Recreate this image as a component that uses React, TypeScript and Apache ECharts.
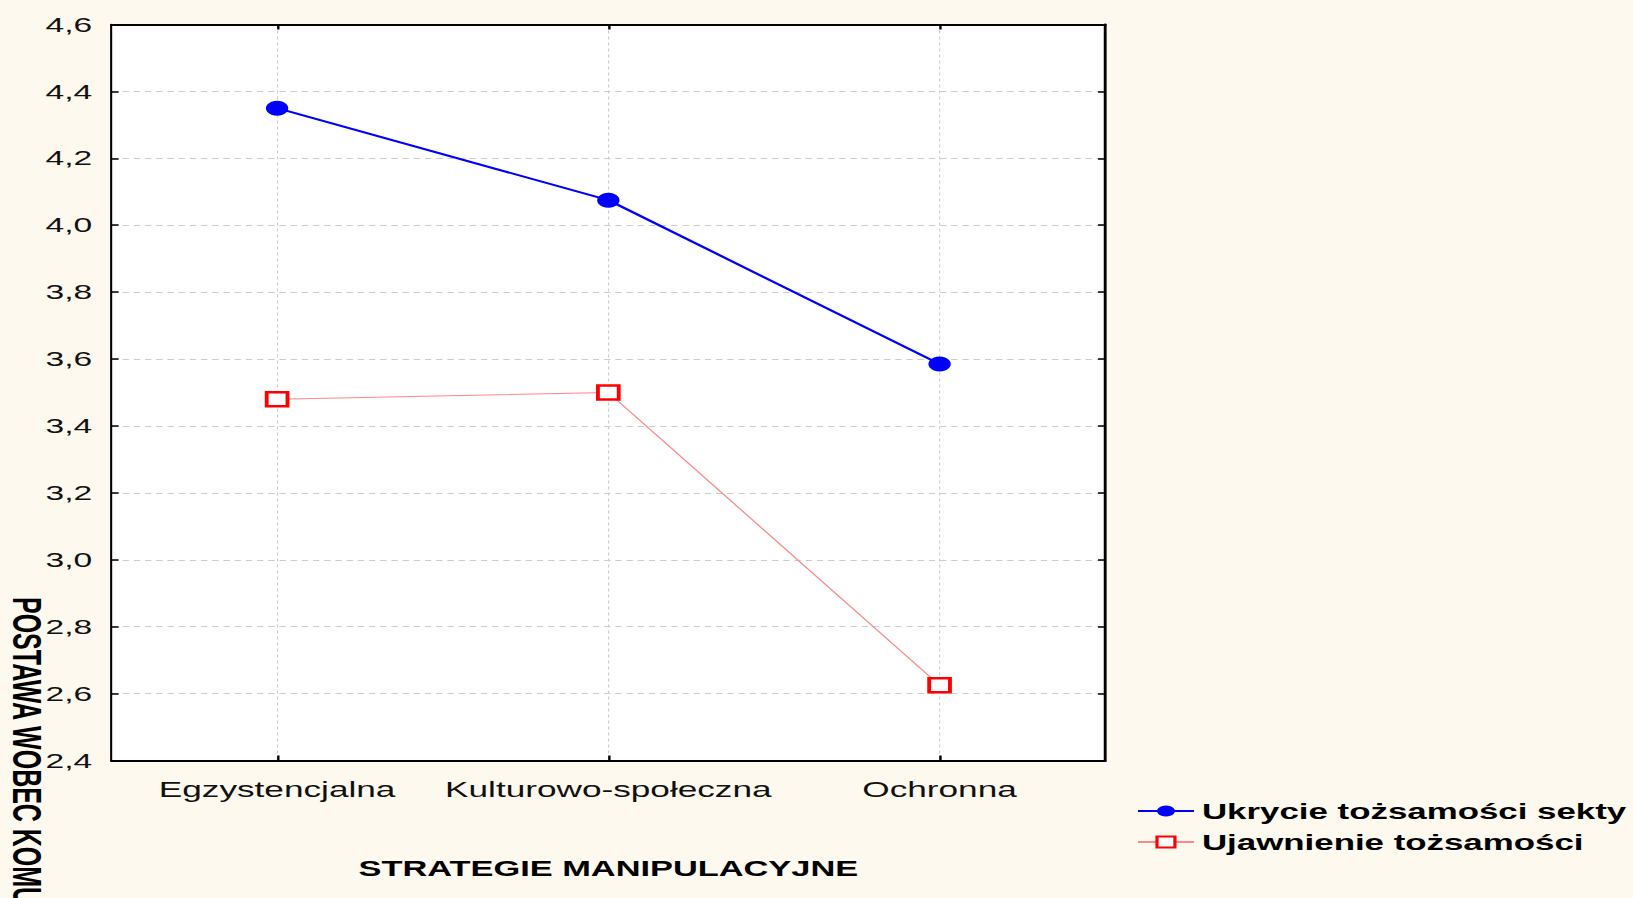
import React, { useEffect, useRef } from "react";
import * as echarts from "echarts";

const categories = ["Egzystencjalna", "Kulturowo-społeczna", "Ochronna"];
const seriesNames = ["Ukrycie tożsamości sekty", "Ujawnienie tożsamości"];
const hiddenValues = [4.35, 4.075, 3.585];
const revealedValues = [3.48, 3.5, 2.625];
const yMin = 2.4;
const yMax = 4.6;
const yStep = 0.2;
const xTitle = "STRATEGIE MANIPULACYJNE";
const yTitle = "POSTAWA WOBEC KOMUNIKATU";

const FULL_W = 1633;
const FULL_H = 898;
const INNER_W = 1021;
const SX = FULL_W / INNER_W;
const FONT = '"Liberation Sans", Arial, sans-serif';

export default function App() {
  const ref = useRef<HTMLDivElement>(null);
  useEffect(() => {
    if (!ref.current) return;
    const chart = echarts.init(ref.current, null, { renderer: "svg" });
    const fmt = (v: number) => v.toFixed(1).replace(".", ",");
    const gridColor = "#cccccc";
    chart.setOption({
      animation: false,
      backgroundColor: "#fef9ee",
      textStyle: { fontFamily: FONT },
      grid: {
        left: 69.7,
        right: 330,
        top: 24.5,
        bottom: 137.5,
        show: true,
        backgroundColor: "#ffffff",
        borderWidth: 0,
      },
      legend: {
        orient: "vertical",
        left: 705.5,
        top: 795,
        itemWidth: 35,
        itemHeight: 14,
        itemGap: 9,
        data: seriesNames,
        textStyle: {
          fontFamily: FONT,
          fontWeight: "bold",
          fontSize: 21.8,
          color: "#000",
          lineHeight: 22,
        },
      },
      xAxis: [
        {
          type: "category",
          data: categories,
          position: "bottom",
          boundaryGap: true,
          name: xTitle,
          nameLocation: "middle",
          nameGap: 97,
          nameTextStyle: {
            fontFamily: FONT,
            fontWeight: "bold",
            fontSize: 21.5,
            color: "#000",
          },
          axisLine: { show: true, lineStyle: { color: "#000", width: 2 } },
          axisTick: {
            show: true,
            inside: true,
            alignWithLabel: true,
            length: 5,
            lineStyle: { color: "#000", width: 1.5 },
          },
          axisLabel: {
            interval: 0,
            fontFamily: FONT,
            fontSize: 22,
            color: "#111",
            margin: 18,
          },
          splitLine: {
            show: true,
            alignWithLabel: true,
            lineStyle: { color: gridColor, type: [3, 3], width: 0.7 },
          },
        },
        {
          type: "category",
          data: categories,
          position: "top",
          boundaryGap: true,
          axisLine: { show: true, lineStyle: { color: "#000", width: 2 } },
          axisTick: {
            show: true,
            inside: true,
            alignWithLabel: true,
            length: 5,
            lineStyle: { color: "#000", width: 1.5 },
          },
          axisLabel: { show: false },
          splitLine: { show: false },
        },
      ],
      yAxis: [
        {
          type: "value",
          min: yMin,
          max: yMax,
          interval: yStep,
          position: "left",
          axisLine: { show: true, lineStyle: { color: "#000", width: 1.3 } },
          axisTick: {
            show: true,
            inside: true,
            length: 4.5,
            lineStyle: { color: "#000", width: 1.5 },
          },
          axisLabel: {
            fontFamily: FONT,
            fontSize: 21,
            color: "#111",
            margin: 12,
            formatter: fmt,
          },
          splitLine: {
            show: true,
            lineStyle: { color: gridColor, type: [4, 3], width: 1 },
          },
        },
        {
          type: "value",
          min: yMin,
          max: yMax,
          interval: yStep,
          position: "right",
          axisLine: { show: true, lineStyle: { color: "#000", width: 1.8 } },
          axisTick: {
            show: true,
            inside: true,
            length: 4.5,
            lineStyle: { color: "#000", width: 1.5 },
          },
          axisLabel: { show: false },
          splitLine: { show: false },
        },
      ],
      graphic: [
        {
          type: "text",
          x: 16.5,
          y: 597,
          rotation: -Math.PI / 2,
          silent: true,
          style: {
            text: yTitle,
            font: 'bold 25px "Liberation Sans", Arial, sans-serif',
            fill: "#000",
            align: "left",
            verticalAlign: "middle",
          },
        },
      ],
      series: [
        {
          name: seriesNames[0],
          type: "line",
          data: hiddenValues,
          xAxisIndex: 0,
          yAxisIndex: 0,
          symbol: "circle",
          symbolSize: [14, 15],
          lineStyle: { color: "#0000ff", width: 2 },
          itemStyle: { color: "#0000ff" },
          z: 3,
        },
        {
          name: seriesNames[1],
          type: "line",
          data: revealedValues,
          xAxisIndex: 0,
          yAxisIndex: 0,
          symbol: "rect",
          symbolSize: [13, 14],
          showAllSymbol: true,
          lineStyle: { color: "#ff8888", width: 1 },
          itemStyle: { color: "#ffffff", borderColor: "#ff0000", borderWidth: 2.5 },
          z: 2,
        },
      ],
    });
    return () => chart.dispose();
  }, []);

  return (
    <div
      style={{
        position: "absolute",
        left: 0,
        top: 0,
        width: FULL_W,
        height: FULL_H,
        overflow: "hidden",
        background: "#fef9ee",
      }}
    >
      <div
        ref={ref}
        style={{
          width: INNER_W,
          height: FULL_H,
          transform: `scaleX(${SX})`,
          transformOrigin: "0 0",
        }}
      />
    </div>
  );
}
